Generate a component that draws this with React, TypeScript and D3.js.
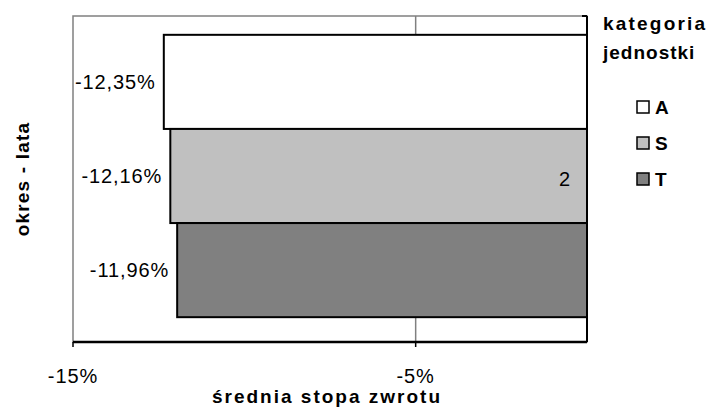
import React, { useEffect, useRef } from 'react';
import * as d3 from 'd3';

// chart data
const series = ['A', 'S', 'T'];
const values = [-12.35, -12.16, -11.96];
const valueLabels = ['-12,35%', '-12,16%', '-11,96%'];
const fills = ['#ffffff', '#c0c0c0', '#808080'];
const tickValues = [-15, -5];
const tickLabels = ['-15%', '-5%'];
const categoryLabel = '2';

const W = 709;
const H = 408;
const FONT = '"Liberation Sans", Arial, sans-serif';

export default function App() {
  const svgRef = useRef<SVGSVGElement>(null);

  useEffect(() => {
    document.body.style.margin = '0';
    if (!svgRef.current) return;
    const svg = d3.select(svgRef.current);
    svg.selectAll('*').remove();

    const left = 73, right = 587, top = 16, bottom = 342;

    const x = d3.scaleLinear().domain([-15, 0]).range([left, right]);
    const y = d3.scaleBand<string>().domain(series).range([top, bottom - 6]).paddingInner(0).paddingOuter(0.2);

    const g = svg.append('g');

    // plot area frame (grey)
    g.append('rect')
      .attr('x', left).attr('y', top)
      .attr('width', right - left).attr('height', bottom - top)
      .attr('fill', 'white').attr('stroke', '#808080').attr('stroke-width', 1.5);

    // gridlines
    g.selectAll('.grid')
      .data(tickValues.filter(v => v > -15))
      .enter().append('line')
      .attr('x1', d => x(d)).attr('x2', d => x(d))
      .attr('y1', top).attr('y2', bottom)
      .attr('stroke', '#808080').attr('stroke-width', 1.5);

    // bars
    g.selectAll('.bar')
      .data(series)
      .enter().append('rect')
      .attr('x', (d, i) => x(values[i]))
      .attr('y', d => y(d)!)
      .attr('width', (d, i) => x(0) - x(values[i]))
      .attr('height', y.bandwidth())
      .attr('fill', (d, i) => fills[i])
      .attr('stroke', '#000').attr('stroke-width', 2);

    // data labels
    g.selectAll('.lbl')
      .data(series)
      .enter().append('text')
      .attr('x', (d, i) => x(values[i]) - 8)
      .attr('y', d => y(d)! + y.bandwidth() / 2)
      .attr('dy', '0.36em')
      .attr('text-anchor', 'end')
      .attr('font-family', FONT).attr('font-size', 20)
      .attr('letter-spacing', 0.9)
      .attr('fill', '#000')
      .text((d, i) => valueLabels[i]);

    // category axis on right
    g.append('line')
      .attr('x1', right).attr('x2', right).attr('y1', top).attr('y2', bottom)
      .attr('stroke', '#000').attr('stroke-width', 2);
    g.append('line')
      .attr('x1', right - 5).attr('x2', right).attr('y1', top).attr('y2', top)
      .attr('stroke', '#000').attr('stroke-width', 2);
    g.append('text')
      .attr('x', right - 17).attr('y', (top + bottom) / 2)
      .attr('dy', '0.36em')
      .attr('text-anchor', 'end')
      .attr('font-family', FONT).attr('font-size', 20)
      .text(categoryLabel);

    // value axis
    g.append('line')
      .attr('x1', left).attr('x2', right).attr('y1', bottom).attr('y2', bottom)
      .attr('stroke', '#000').attr('stroke-width', 2.5);
    g.selectAll('.tick')
      .data(tickValues)
      .enter().append('line')
      .attr('x1', d => x(d)).attr('x2', d => x(d))
      .attr('y1', bottom).attr('y2', bottom + 5)
      .attr('stroke', '#000').attr('stroke-width', 1.5);
    g.selectAll('.tlbl')
      .data(tickValues)
      .enter().append('text')
      .attr('x', d => x(d))
      .attr('y', 383)
      .attr('text-anchor', 'middle')
      .attr('font-family', FONT).attr('font-size', 20)
      .attr('letter-spacing', 0.9)
      .text((d, i) => tickLabels[i]);

    // axis titles
    g.append('text')
      .attr('x', 327).attr('y', 403)
      .attr('text-anchor', 'middle')
      .attr('font-family', FONT).attr('font-size', 19).attr('font-weight', 'bold')
      .attr('letter-spacing', 2)
      .text('średnia stopa zwrotu');
    g.append('text')
      .attr('transform', `translate(29, ${(top + bottom) / 2}) rotate(-90)`)
      .attr('text-anchor', 'middle')
      .attr('font-family', FONT).attr('font-size', 19).attr('font-weight', 'bold')
      .attr('letter-spacing', 1.2)
      .text('okres - lata');

    // legend
    const lg = g.append('g');
    lg.append('text')
      .attr('x', 603).attr('y', 30)
      .attr('font-family', FONT).attr('font-size', 19).attr('font-weight', 'bold')
      .attr('letter-spacing', 2.2)
      .text('kategoria');
    lg.append('text')
      .attr('x', 603).attr('y', 59)
      .attr('font-family', FONT).attr('font-size', 19).attr('font-weight', 'bold')
      .attr('letter-spacing', 1)
      .text('jednostki');
    const item = lg.selectAll('.li')
      .data(series)
      .enter().append('g')
      .attr('transform', (d, i) => `translate(637, ${101 + i * 36})`);
    item.append('rect')
      .attr('width', 12).attr('height', 12)
      .attr('fill', (d, i) => fills[i])
      .attr('stroke', '#000').attr('stroke-width', 1.5);
    item.append('text')
      .attr('x', 18).attr('y', 13)
      .attr('font-family', FONT).attr('font-size', 19).attr('font-weight', 'bold')
      .text(d => d);
  }, []);

  return <svg ref={svgRef} width={W} height={H} style={{ display: 'block', background: '#fff' }} />;
}
